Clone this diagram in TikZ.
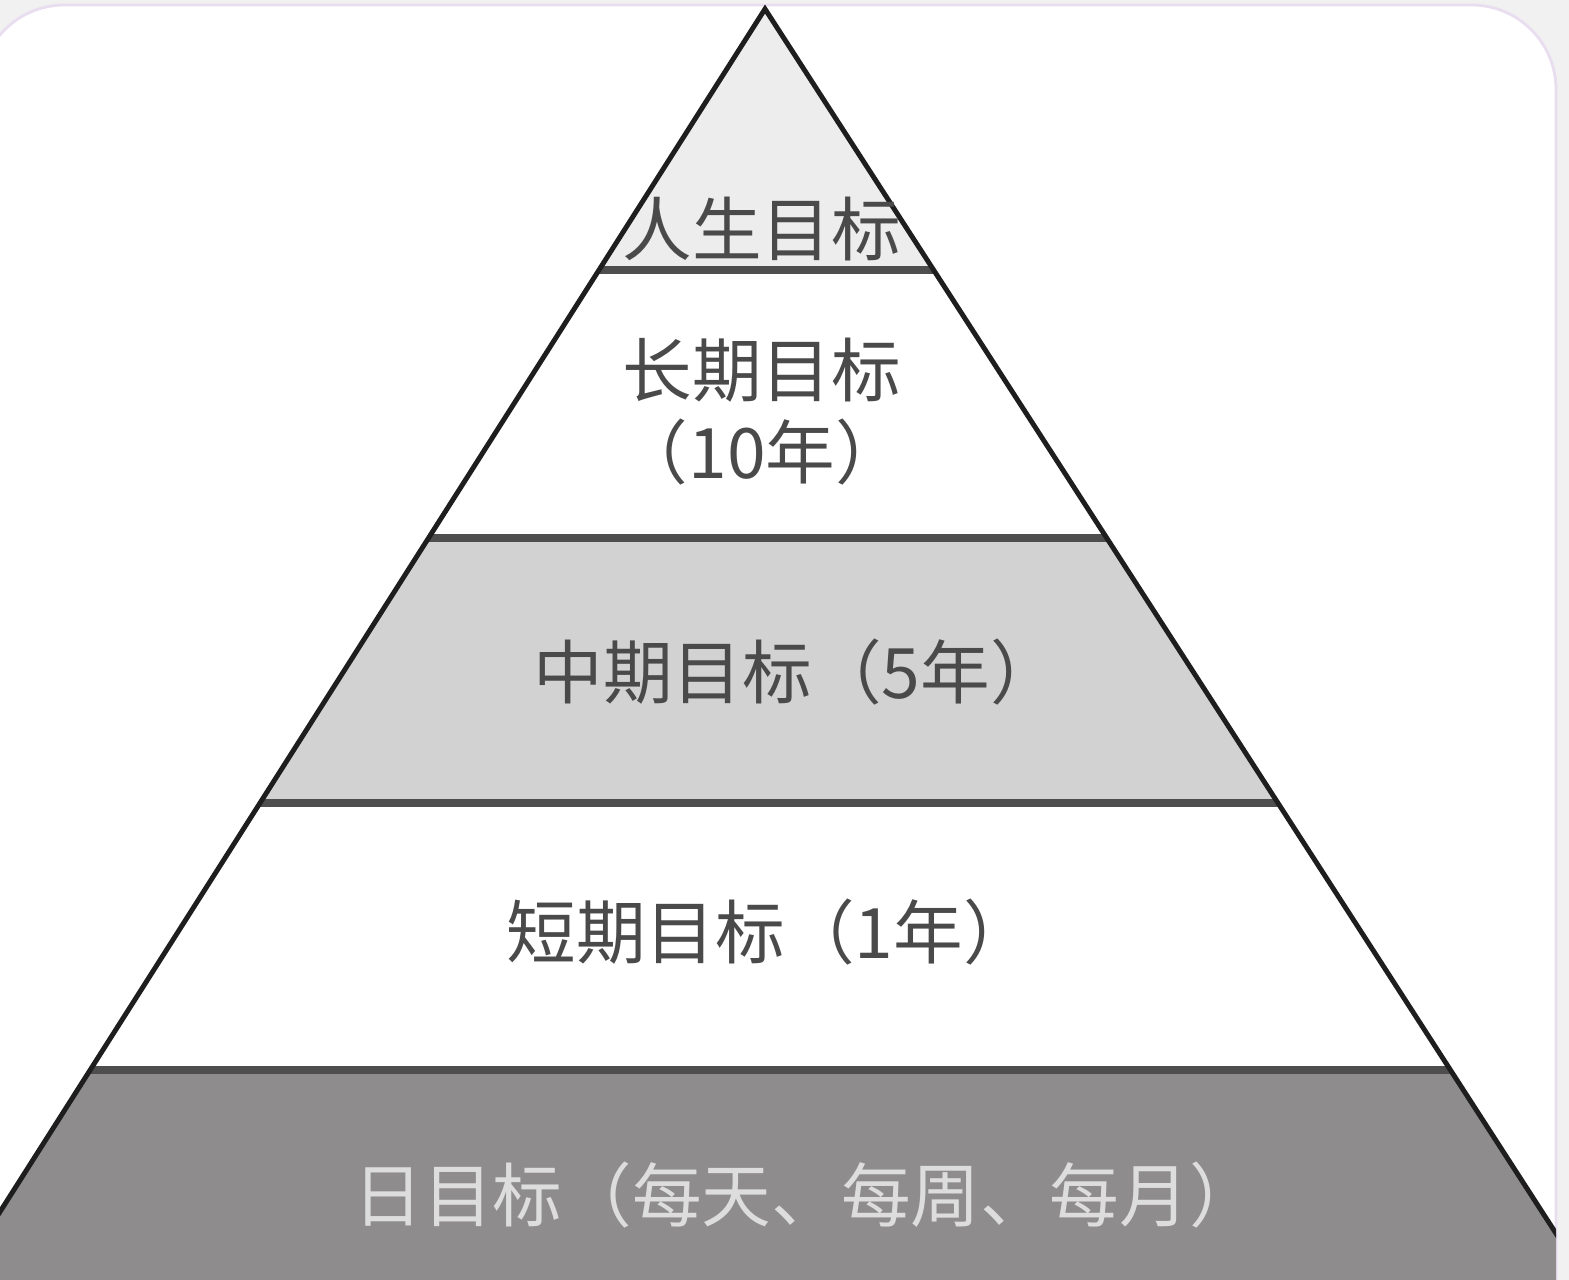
\documentclass[tikz,border=0pt]{standalone}
\usepackage{fontspec}
\newfontfamily\cjk{Noto Sans CJK SC}
\definecolor{pagebg}{HTML}{F1F1F1}
\definecolor{framecol}{HTML}{E9DDF0}
\definecolor{toplayer}{HTML}{EDEDED}
\definecolor{midlayer}{HTML}{D2D2D2}
\definecolor{baselayer}{HTML}{8E8C8D}
\definecolor{sepcol}{HTML}{4E4E4E}
\definecolor{slopecol}{HTML}{1E1E1E}
\definecolor{txtdark}{HTML}{4A4A4A}
\definecolor{txtlight}{HTML}{DDDDDD}
\begin{document}
\begin{tikzpicture}[x=0.01cm,y=-0.01cm,
  layerlabel/.style={inner sep=0pt, anchor=west, font=\cjk\fontsize{19.8pt}{24pt}\selectfont, text=txtdark},
  baselabel/.style={layerlabel, text=txtlight},
  sepline/.style={draw=sepcol, line width=2pt},
  slopeline/.style={draw=slopecol, line width=1.4pt, line cap=round, line join=miter},
  framebox/.style={rounded corners=24pt}]
\useasboundingbox (0,0) rectangle (1569,1280);
\fill[pagebg] (0,0) rectangle (1569,1280);
% frame
\fill[white, framebox] (-20,5) rectangle (1556,1500);
\draw[framecol, line width=0.8pt, framebox] (-20,5) rectangle (1556,1500);
% coordinates
\coordinate (apex) at (765,9);
\coordinate (l1) at (599,270);   \coordinate (r1) at (933.6,270);
\coordinate (l2) at (428.6,538); \coordinate (r2) at (1106.7,538);
\coordinate (l3) at (260,803);   \coordinate (r3) at (1278,803);
\coordinate (l4) at (90.2,1070); \coordinate (r4) at (1450.4,1070);
\coordinate (l5) at (-119.7,1400); \coordinate (r5) at (1663.6,1400);
\begin{scope}
\clip[framebox] (-20,5) rectangle (1556,1500);
\fill[toplayer] (apex) -- (l1) -- (r1) -- cycle;
\fill[white] (l1) -- (l2) -- (r2) -- (r1) -- cycle;
\fill[midlayer] (l2) -- (l3) -- (r3) -- (r2) -- cycle;
\fill[white] (l3) -- (l4) -- (r4) -- (r3) -- cycle;
\fill[baselayer] (l4) -- (l5) -- (r5) -- (r4) -- cycle;
\draw[sepline] (l1) -- (r1);
\draw[sepline] (l2) -- (r2);
\draw[sepline] (l3) -- (r3);
\draw[sepline] (l4) -- (r4);
\draw[slopeline] (l5) -- (apex) -- (r5);
\end{scope}
% labels
\node[layerlabel] (life) at (622,229) {人生目标};
\node[layerlabel] (long) at (622,370) {长期目标};
\node[layerlabel, anchor=center] (longyr) at (762,452) {（10年）};
\node[layerlabel] (mid) at (533,672) {中期目标（5年）};
\node[layerlabel] (short) at (506,932) {短期目标（1年）};
\node[baselabel] (daily) at (353,1195) {日目标（每天、每周、每月）};
\end{tikzpicture}
\end{document}
